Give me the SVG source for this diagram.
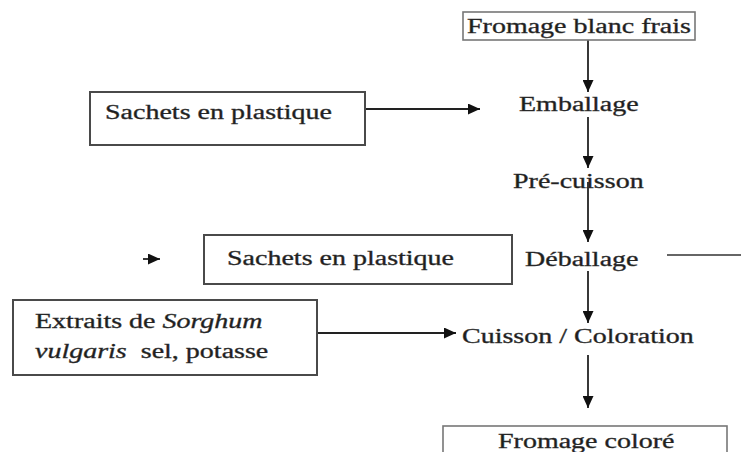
<svg xmlns="http://www.w3.org/2000/svg" width="741" height="452" viewBox="0 0 741 452">
  <style>
    .t { font-family: "Liberation Serif", "DejaVu Serif", serif; font-size: 20px; fill: #1e1e1e; stroke: #333333; stroke-width: 0.35; }
    .i { font-style: italic; }
    .box { fill: #ffffff; stroke: #4a4a4a; stroke-width: 2; }
    .thin { fill: #ffffff; stroke: #777777; stroke-width: 1.6; }
    .c { stroke: #222222; stroke-width: 1.8; fill: none; }
    .cg { stroke: #666666; stroke-width: 2; fill: none; }
  </style>
  <defs>
    <marker id="ah" markerUnits="userSpaceOnUse" markerWidth="12" markerHeight="11" refX="12" refY="5.5" orient="auto">
      <path d="M0,0 L12,5.5 L0,11 z" fill="#111111"/>
    </marker>
  </defs>
  <rect width="741" height="452" fill="#ffffff"/>

  <g id="connectors">
    <line class="c" x1="588" y1="40" x2="588" y2="92" marker-end="url(#ah)"/>
    <line class="c" x1="365" y1="109" x2="480" y2="109" marker-end="url(#ah)"/>
    <line class="c" x1="588" y1="117" x2="588" y2="168" marker-end="url(#ah)"/>
    <line class="c" x1="588" y1="182" x2="588" y2="242" marker-end="url(#ah)"/>
    <line class="c" x1="143" y1="259" x2="160" y2="259" marker-end="url(#ah)"/>
    <line class="cg" x1="667" y1="255" x2="741" y2="255"/>
    <line class="c" x1="588" y1="271" x2="588" y2="323" marker-end="url(#ah)"/>
    <line class="c" x1="317" y1="333" x2="456" y2="333" marker-end="url(#ah)"/>
    <line class="c" x1="588" y1="355" x2="588" y2="408" marker-end="url(#ah)"/>
  </g>

  <g id="fromage-blanc">
    <rect class="thin" x="463" y="12" width="232" height="28"/>
    <text class="t" transform="translate(467,33) scale(1.4,1)">Fromage blanc frais</text>
  </g>

  <g id="sachets-1">
    <rect class="box" x="90" y="92" width="275" height="53"/>
    <text class="t" transform="translate(105,119) scale(1.4,1)">Sachets en plastique</text>
  </g>

  <g id="emballage">
    <text class="t" transform="translate(519,111) scale(1.4,1)">Emballage</text>
  </g>

  <g id="pre-cuisson">
    <text class="t" transform="translate(513,188) scale(1.4,1)">Pré-cuisson</text>
  </g>

  <g id="sachets-2">
    <rect class="box" x="204" y="235" width="308" height="49"/>
    <text class="t" transform="translate(227,265) scale(1.4,1)">Sachets en plastique</text>
  </g>

  <g id="deballage">
    <text class="t" transform="translate(525,266) scale(1.4,1)">Déballage</text>
  </g>

  <g id="extraits">
    <rect class="box" x="13" y="300" width="304" height="75"/>
    <text class="t" transform="translate(35,328) scale(1.4,1)">Extraits de <tspan class="i">Sorghum</tspan></text>
    <text class="t" transform="translate(35,358) scale(1.4,1)" xml:space="preserve"><tspan class="i">vulgaris</tspan>  sel, potasse</text>
  </g>

  <g id="cuisson">
    <text class="t" transform="translate(462,343) scale(1.4,1)">Cuisson / Coloration</text>
  </g>

  <g id="fromage-colore">
    <rect class="thin" x="443" y="426" width="284" height="40"/>
    <text class="t" transform="translate(498,448) scale(1.4,1)">Fromage coloré</text>
  </g>
</svg>
